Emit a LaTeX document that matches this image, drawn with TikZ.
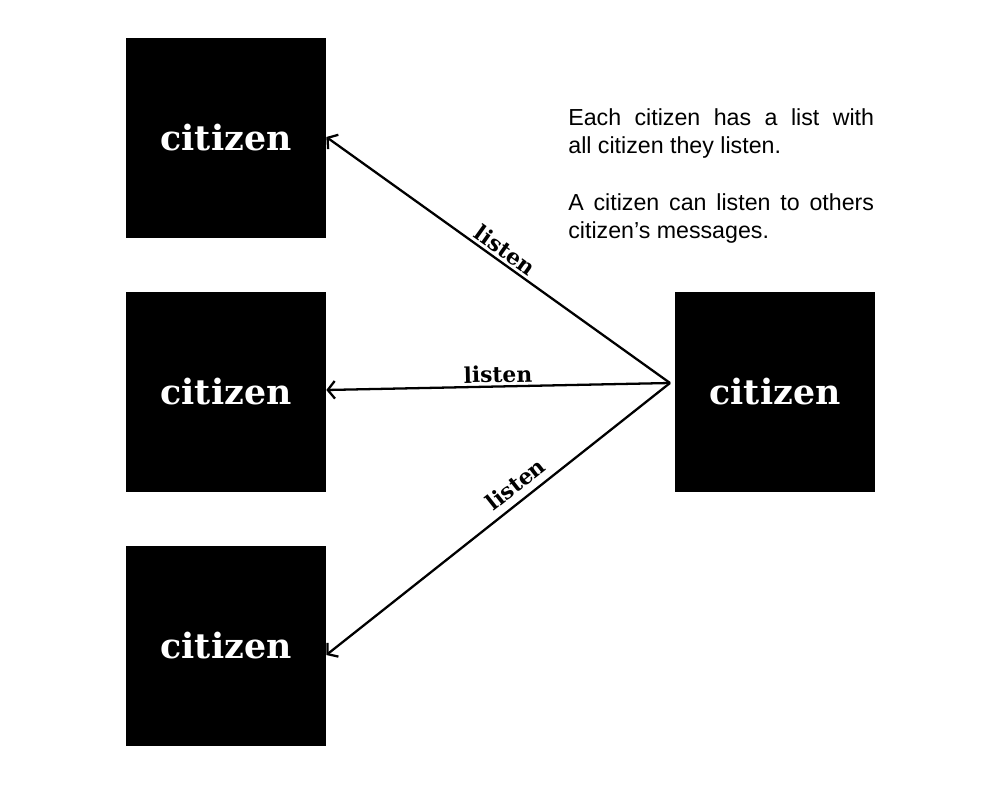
\documentclass[tikz,border=0pt]{standalone}
\usepackage{fontspec}
\newfontfamily\notefont{Liberation Sans}
\newfontfamily\slabfont{DejaVu Serif}
\usetikzlibrary{positioning,arrows.meta}
\begin{document}
\begin{tikzpicture}[x=0.02cm,y=-0.02cm,
    citizenbox/.style={fill=black,text=white,minimum size=4cm,inner sep=0pt,
      font=\slabfont\bfseries\fontsize{19.8}{24}\selectfont},
    listenarrow/.style={-{Straight Barb[length=4pt,width=10pt]},line width=1.3pt},
    listenlabel/.style={sloped,above,inner sep=2pt,
      font=\slabfont\bfseries\fontsize{12.4}{15}\selectfont}]

	\useasboundingbox (0,0) rectangle (1000,800);

            \node[citizenbox] (c1) at (226,138) {citizen};
            \node[citizenbox] (c2) at (226,392) {citizen};
            \node[citizenbox] (c3) at (226,646) {citizen};
            \node[citizenbox] (c0) at (775,392) {citizen};

            \coordinate (src) at (670,383);

            \foreach \n/\dy/\p/\off in {1/0.02/0.5/1.5pt,2/0.04/0.5/1.5pt,3/-0.18/0.42/4pt}{
              \draw[listenarrow] (src) -- ([yshift=\dy cm]c\n.east)
                node[listenlabel,pos=\p,inner sep=\off] {listen};
            }

            \node[anchor=north west,text width=174pt,align=justify,inner sep=0pt,
              font=\notefont\fontsize{13.2}{15.9}\selectfont] (note) at (568,108)
              {Each citizen has a list with\linebreak all citizen they listen.\par\vspace{17pt}
               A citizen can listen to others\linebreak citizen’s messages.};

        \end{tikzpicture}
\end{document}
